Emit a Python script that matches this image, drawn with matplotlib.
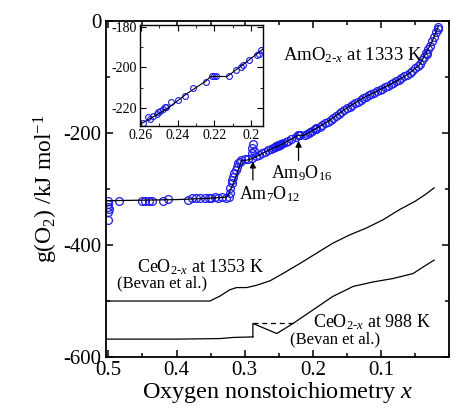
import matplotlib
matplotlib.use("Agg")
import matplotlib.pyplot as plt
from matplotlib.ticker import MultipleLocator

plt.rcParams["font.family"] = ["Liberation Serif", "DejaVu Serif"]
plt.rcParams["mathtext.fontset"] = "custom"
plt.rcParams["mathtext.rm"] = "Liberation Serif"
plt.rcParams["mathtext.it"] = "Liberation Serif:italic"

# AmO2-x at 1333 K, measured points (blue circles)
am_x = [0.501, 0.500, 0.501, 0.499, 0.500, 0.501,
        0.484, 0.451, 0.447, 0.441, 0.436, 0.420, 0.413, 0.383,
        0.378, 0.371, 0.366, 0.358, 0.353, 0.349, 0.344, 0.339, 0.334, 0.327, 0.323,
        0.322, 0.321, 0.319, 0.318, 0.317, 0.316, 0.313, 0.312, 0.310, 0.307,
        0.305, 0.300, 0.295, 0.290,
        0.288, 0.289, 0.286, 0.289,
        0.283, 0.279, 0.274, 0.270, 0.266, 0.262,
        0.2588, 0.256, 0.2551, 0.2534, 0.2515, 0.2506, 0.2497, 0.2479, 0.247, 0.2461,
        0.2434, 0.2398, 0.2362, 0.2317, 0.2245, 0.2215, 0.2203, 0.2191, 0.2119,
        0.2083, 0.2056, 0.2047, 0.2011, 0.1966, 0.1948, 0.1957,
        0.190, 0.186, 0.182, 0.178, 0.174, 0.170, 0.166, 0.162, 0.158, 0.154,
        0.150, 0.146, 0.142, 0.138, 0.134, 0.130, 0.126, 0.122, 0.118, 0.114,
        0.110, 0.106, 0.102, 0.098, 0.094, 0.090, 0.086, 0.082, 0.078, 0.074,
        0.070, 0.066, 0.062, 0.058, 0.054, 0.050, 0.046, 0.043, 0.040, 0.037,
        0.034, 0.031, 0.028, 0.025, 0.022, 0.019, 0.017, 0.032, 0.016]
am_y = [-322, -326, -332, -336, -341, -355,
        -321, -321, -321, -321, -321, -321, -318, -319,
        -316, -316, -317, -316, -316, -316, -315, -316, -315, -316, -315,
        -308, -299, -290, -284, -278, -272, -266, -260, -254, -251,
        -248, -247, -247, -245,
        -220, -227, -233, -236,
        -242, -239, -236, -234, -231, -229,
        -227.3, -224.8, -225.7, -224.0, -223.2, -222.3, -221.5, -220.7, -219.5, -219.8,
        -217.3, -216.2, -214.0, -210.3, -207.3, -204.3, -204.3, -204.3, -204.5,
        -201.2, -199.8, -199.0, -196.2, -193.7, -191.5, -193.2,
        -189, -186, -183, -180, -177, -173, -170, -166, -163, -159,
        -156, -153, -150, -147, -144, -141, -138, -135, -132, -130,
        -128, -126, -123, -121, -118, -116, -113, -111, -108, -105,
        -102, -99, -96, -93, -89, -85, -81, -77, -70, -64,
        -58, -51, -44, -36, -28, -20, -14, -60, -11]

# AmO2-x fitted line
am_line_x = [0.502, 0.45, 0.40, 0.36, 0.33, 0.325, 0.315, 0.305, 0.295, 0.289,
             0.284, 0.27, 0.26, 0.245, 0.235, 0.225, 0.222, 0.213, 0.205, 0.195,
             0.175, 0.151, 0.127, 0.102, 0.078, 0.058, 0.044, 0.034, 0.024, 0.016]
am_line_y = [-321, -320, -319, -317, -315, -313, -285, -250, -248, -246,
             -243, -234, -228, -220, -213, -207, -204.5, -204.5, -199, -192,
             -177, -156, -138, -123, -108, -93, -79, -58, -34, -10]

# CeO2-x at 1353 K (Bevan et al.)
ce1353_x = [0.503, 0.40, 0.351, 0.336, 0.322, 0.312, 0.297, 0.283, 0.263, 0.244,
            0.219, 0.195, 0.171, 0.146, 0.122, 0.097, 0.073, 0.05, 0.035, 0.022]
ce1353_y = [-500, -500, -500, -491, -480, -476, -476, -472, -464, -451,
            -433, -415, -397, -382, -370, -355, -337, -322, -310, -298]

# CeO2-x at 988 K (Bevan et al.)
ce988_lo_x = [0.503, 0.40, 0.336, 0.317, 0.288]
ce988_lo_y = [-568, -568, -567, -565, -564]
ce988_hi_x = [0.288, 0.288, 0.253, 0.229, 0.20, 0.171, 0.141, 0.112, 0.083, 0.053, 0.034, 0.022]
ce988_hi_y = [-564, -540, -558, -540, -516, -492, -474, -466, -460, -451, -436, -427]
ce988_dash_x = [0.288, 0.224]
ce988_dash_y = [-540, -540]

blue = "#1a1aff"

fig = plt.figure(figsize=(4.56, 4.09), dpi=100)
ax = fig.add_axes([0.2325, 0.127, 0.7525, 0.822])

ax.plot(am_x, am_y, "o", mfc="none", mec=blue, ms=5.6, mew=0.9)
ax.plot(am_line_x, am_line_y, color="black", lw=0.9)
ax.plot(ce1353_x, ce1353_y, color="black", lw=0.9)
ax.plot(ce988_lo_x, ce988_lo_y, color="black", lw=0.9)
ax.plot(ce988_hi_x, ce988_hi_y, color="black", lw=0.9)
ax.plot(ce988_dash_x, ce988_dash_y, color="black", lw=0.9, ls=(0, (4, 3)))

ax.set_xlim(0.5035, 0.0)
ax.set_ylim(-600, 0)
ax.xaxis.set_major_locator(MultipleLocator(0.1))
ax.xaxis.set_minor_locator(MultipleLocator(0.05))
ax.yaxis.set_major_locator(MultipleLocator(200))
ax.yaxis.set_minor_locator(MultipleLocator(100))
ax.set_xticks([0.5, 0.4, 0.3, 0.2, 0.1])
ax.set_xticklabels(["0.5", "0.4", "0.3", "0.2", "0.1"])
ax.set_yticks([0, -200, -400, -600])
ax.set_yticklabels(["0", "-200", "-400", "-600"])
ax.tick_params(which="both", direction="in", top=True, right=True, labelsize=15, width=1.1)
ax.tick_params(which="major", length=5)
ax.tick_params(which="minor", length=3)
ax.tick_params(axis="x", pad=3)
for s in ax.spines.values():
    s.set_linewidth(1.3)

ax.set_xlabel("Oxygen nonstoichiometry $\\mathit{x}$", fontsize=17.5, labelpad=0)
ax.set_ylabel("g(O$_{2}$) /kJ mol$^{-1}$", fontsize=17, labelpad=2)

ax.text(0.244, -62, "AmO$_{\\mathrm{2\\text{-}}\\mathit{x}}$ at 1333 K", fontsize=13.5, va="center")
ax.text(0.458, -439, "CeO$_{\\mathrm{2\\text{-}}\\mathit{x}}$ at 1353 K", fontsize=13, va="center")
ax.text(0.487, -468, "(Bevan et al.)", fontsize=12, va="center")
ax.text(0.20, -537, "CeO$_{\\mathrm{2\\text{-}}\\mathit{x}}$ at 988 K", fontsize=13, va="center")
ax.text(0.234, -568, "(Bevan et al.)", fontsize=12, va="center")

arrow = dict(arrowstyle="-|>", color="black", lw=0.9, mutation_scale=9)
ax.annotate("", xy=(0.288, -246), xytext=(0.288, -289), arrowprops=arrow)
ax.text(0.263, -310, "Am$_{7}$O$_{12}$", fontsize=13, ha="center", va="center")
ax.annotate("", xy=(0.221, -209), xytext=(0.221, -254), arrowprops=arrow)
ax.text(0.216, -272, "Am$_{9}$O$_{16}$", fontsize=13, ha="center", va="center")

# inset
ins = fig.add_axes([0.307, 0.692, 0.27, 0.247])
ins.plot(am_x, am_y, "o", mfc="none", mec=blue, ms=4.2, mew=0.8)
ins.plot(am_line_x, am_line_y, color="black", lw=0.8)
ins.set_xlim(0.2605, 0.1935)
ins.set_ylim(-229, -179)
ins.xaxis.set_major_locator(MultipleLocator(0.02))
ins.xaxis.set_minor_locator(MultipleLocator(0.01))
ins.yaxis.set_major_locator(MultipleLocator(20))
ins.yaxis.set_minor_locator(MultipleLocator(10))
ins.set_xticks([0.26, 0.24, 0.22, 0.2])
ins.set_xticklabels(["0.26", "0.24", "0.22", "0.2"])
ins.set_yticks([-180, -200, -220])
ins.set_yticklabels(["-180", "-200", "-220"])
ins.tick_params(which="both", direction="in", top=True, right=True, labelsize=10, pad=2)
ins.tick_params(which="major", length=4)
ins.tick_params(which="minor", length=2)
for s in ins.spines.values():
    s.set_linewidth(1.0)

fig.savefig("out.png", dpi=100)
